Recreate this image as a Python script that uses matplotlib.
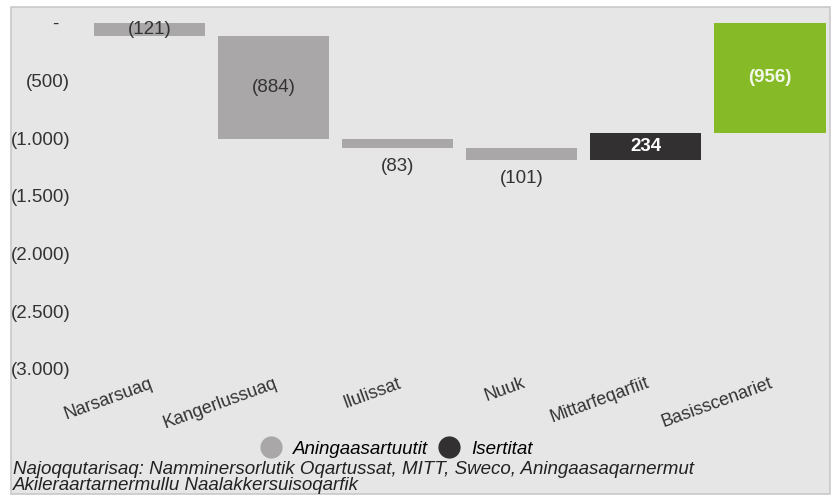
import numpy as np
import matplotlib
matplotlib.use("Agg")
import matplotlib.pyplot as plt
from matplotlib.patches import Rectangle
from matplotlib.lines import Line2D

# %% data
categories = ["Narsarsuaq", "Kangerlussuaq", "Ilulissat", "Nuuk",
              "Mittarfeqarfiit", "Basisscenariet"]
changes = [-121, -884, -83, -101, 234]
total = -956
legend_labels = ["Aningaasartuutit", "Isertitat"]
y_ticks = [0, -500, -1000, -1500, -2000, -2500, -3000]
y_tick_labels = ["-  ", "(500)", "(1.000)", "(1.500)", "(2.000)", "(2.500)", "(3.000)"]
source_lines = [
    "Najoqqutarisaq: Namminersorlutik Oqartussat, MITT, Sweco, Aningaasaqarnermut",
    "Akileraartarnermullu Naalakkersuisoqarfik",
]

# %% style
plt.rcParams["font.family"] = ["Liberation Sans", "DejaVu Sans"]
bg = "#e7e6e7"
c_cost = "#a9a7a8"
c_income = "#323031"
c_total = "#86bb27"
W, H = 833, 501


def fmt(v):
    return f"({abs(v):,})".replace(",", ".") if v < 0 else f"{v:,}".replace(",", ".")


# %% figure
fig = plt.figure(figsize=(W / 100, H / 100), dpi=100)
fig.patch.set_facecolor("white")
fig.add_artist(Rectangle((11 / W, 1 - 494 / H), (830 - 11) / W, (494 - 7) / H,
                         transform=fig.transFigure, facecolor=bg,
                         edgecolor="#c9c9c9", lw=1.2, zorder=0))

ax = fig.add_axes([80 / W, 1 - 372 / H, (828 - 80) / W, (372 - 12) / H])
ax.set_facecolor("none")

# waterfall positions
cum = np.concatenate([[0], np.cumsum(changes)])
bottoms = list(cum[:-1]) + [0]
heights = list(changes) + [total]
values = list(changes) + [total]
colors = [c_cost if v < 0 else c_income for v in changes] + [c_total]
x = np.arange(len(categories))

ax.bar(x, heights, bottom=bottoms, width=0.9, color=colors, zorder=2)

for i, (b, h, v) in enumerate(zip(bottoms, heights, values)):
    if i == len(values) - 1:
        ax.text(i, b + h / 2, fmt(v), ha="center", va="center",
                color="#f3f7ea", fontsize=13.5, fontweight="bold", zorder=3)
    elif v > 0:
        ax.text(i, b + h / 2, fmt(v), ha="center", va="center",
                color="white", fontsize=13.5, fontweight="bold", zorder=3)
    elif abs(v) < 110:
        # small bars get the label underneath
        ax.annotate(fmt(v), (i, b + h), xytext=(0, -7), textcoords="offset points",
                    ha="center", va="top", color="#333333", fontsize=13.5)
    else:
        ax.text(i, b + h / 2, fmt(v), ha="center", va="center",
                color="#333333", fontsize=13.5, zorder=3)

ax.set_xlim(-0.56, 5.47)
ax.set_ylim(-3026, 91)
ax.set_yticks(y_ticks)
ax.set_yticklabels(y_tick_labels, fontsize=13.5, color="#333333")
ax.set_xticks(x)
ax.set_xticklabels(categories, rotation=20, ha="right", rotation_mode="anchor",
                   fontsize=13, color="#333333")
ax.tick_params(axis="both", length=0)
ax.tick_params(axis="y", pad=7)
ax.tick_params(axis="x", pad=2)
for s in ax.spines.values():
    s.set_visible(False)

# legend
handles = [Line2D([], [], ls="none", marker="o", markersize=15, color=c_cost),
           Line2D([], [], ls="none", marker="o", markersize=15, color=c_income)]
fig.legend(handles, legend_labels, loc="center", bbox_to_anchor=(397 / W, 1 - 449 / H),
           ncol=2, frameon=False, prop={"style": "italic", "size": 13.5},
           handletextpad=0.7, columnspacing=0.6, handlelength=1.0)

# source
fig.text(13 / W, 1 - 469 / H, source_lines[0], style="italic", fontsize=13.5,
         va="center", ha="left", color="#222222")
fig.text(13 / W, 1 - 486 / H, source_lines[1], style="italic", fontsize=13.5,
         va="center", ha="left", color="#222222")

fig.savefig("out.png", dpi=100, facecolor=fig.get_facecolor())
